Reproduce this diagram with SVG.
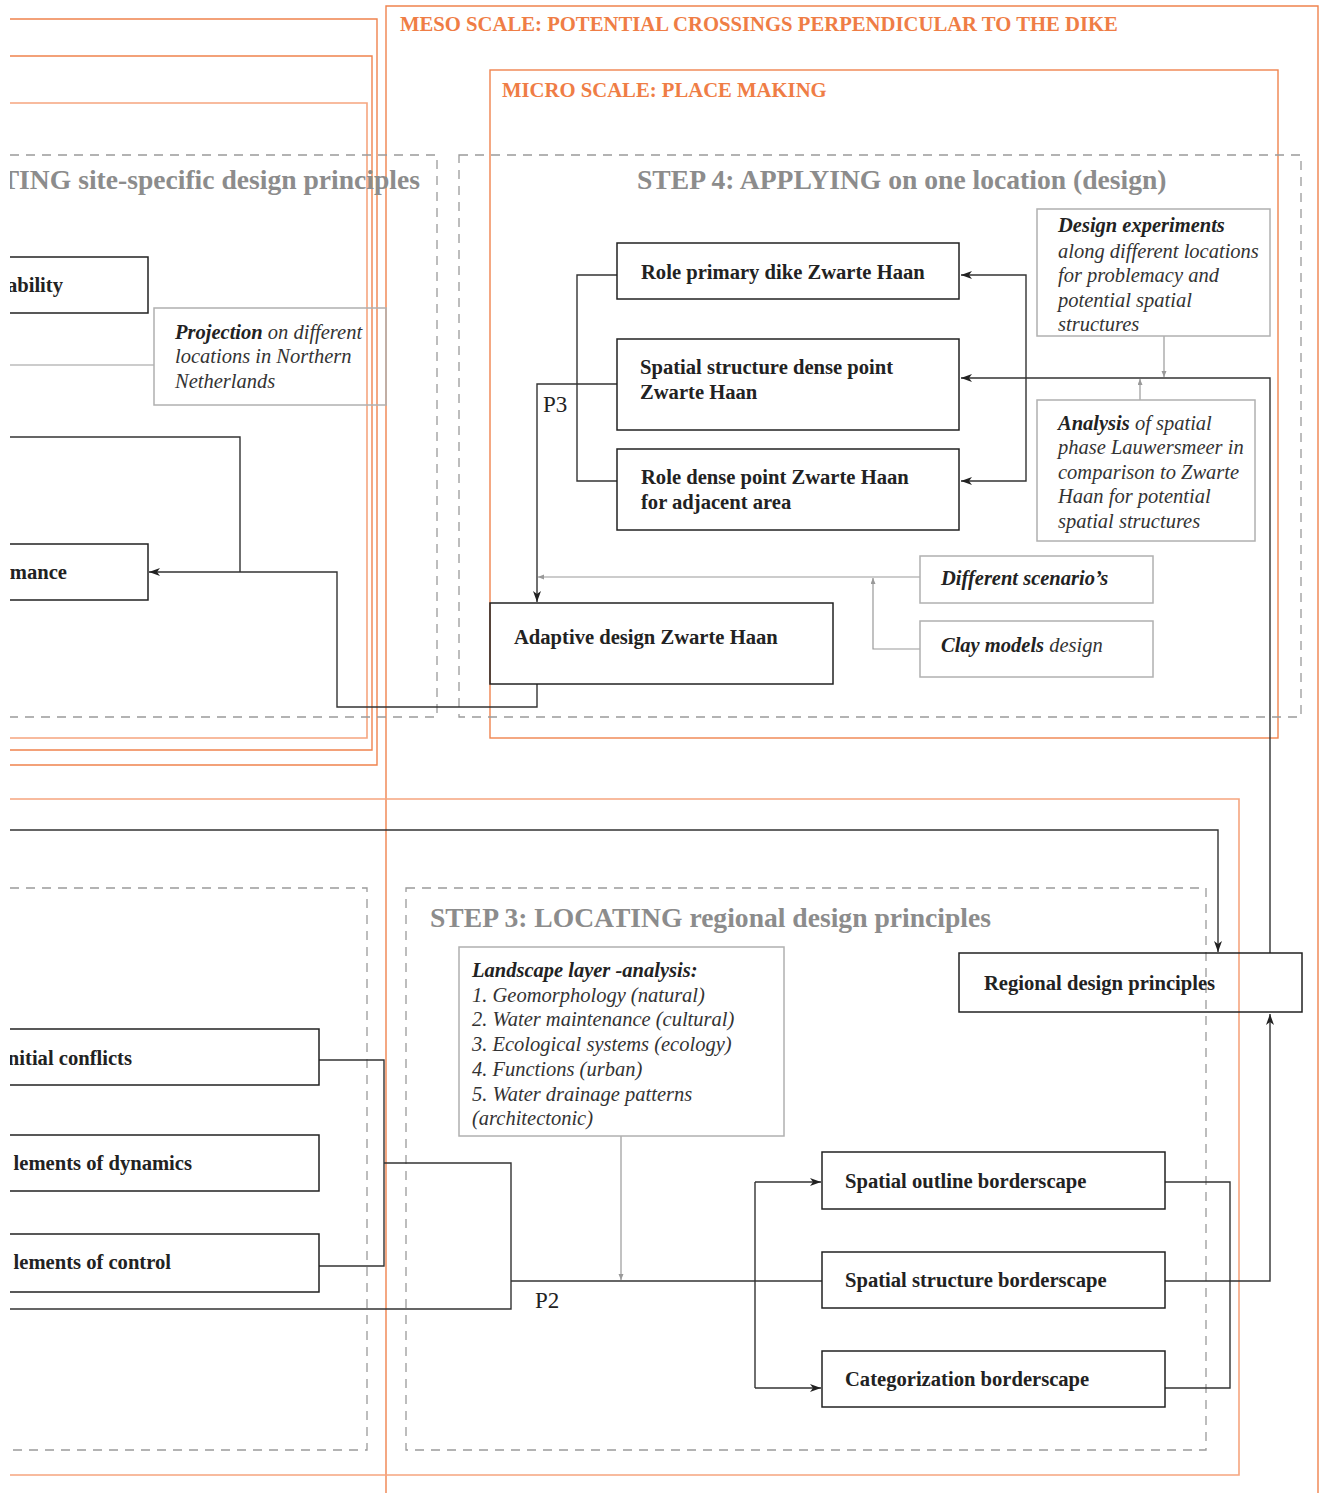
<svg xmlns="http://www.w3.org/2000/svg" width="1320" height="1493" viewBox="0 0 1320 1493">
<style>
.or{fill:none;stroke:#F0834E;stroke-width:1.4}
.orl{fill:none;stroke:#F6A57F;stroke-width:1.6}
.dash{fill:none;stroke:#9a9a9a;stroke-width:1.3;stroke-dasharray:9 7}
.box{fill:none;stroke:#222;stroke-width:1.5}
.gbox{fill:none;stroke:#b0b0b0;stroke-width:1.5}
.cn{fill:none;stroke:#333;stroke-width:1.4}
.gc{fill:none;stroke:#999;stroke-width:1.2}
.ot{font-family:"Liberation Serif",serif;font-weight:bold;font-size:20.7px;fill:#EF7D45}
.st{font-family:"Liberation Serif",serif;font-weight:bold;font-size:27.6px;fill:#8c8c8c}
.bt{font-family:"Liberation Serif",serif;font-weight:bold;font-size:20.6px;fill:#222}
.it{font-family:"Liberation Serif",serif;font-style:italic;font-size:20.5px;fill:#333}
.pl{font-family:"Liberation Serif",serif;font-size:23px;fill:#222}
.b{font-weight:bold;fill:#222}
</style>
<defs>
<clipPath id="cl"><rect x="10" y="0" width="1310" height="1493"/></clipPath>
<marker id="ah" markerUnits="userSpaceOnUse" markerWidth="12" markerHeight="9" refX="11" refY="4" orient="auto"><path d="M0,0 L11,4 L0,8 L3,4 z" fill="#222"/></marker>
<marker id="ag" markerUnits="userSpaceOnUse" markerWidth="7" markerHeight="6" refX="6" refY="2.5" orient="auto"><path d="M0,0 L6,2.5 L0,5 z" fill="#999"/></marker>
</defs>
<g clip-path="url(#cl)">
<g id="frames">
<path class="or" d="M386,1493 V6 H1318 V1493"/>
<rect class="or" x="490" y="70" width="788" height="668"/>
<path class="or" d="M10,19 H377 V765 H10"/>
<path class="or" d="M10,56 H372 V750 H10"/>
<path class="orl" d="M10,103 H367 V738 H10"/>
<path class="orl" d="M10,799 H1239 V1475 H10"/>
<text class="ot" x="400" y="31">MESO SCALE: POTENTIAL CROSSINGS PERPENDICULAR TO THE DIKE</text>
<text class="ot" x="502" y="97">MICRO SCALE: PLACE MAKING</text>
</g>
<g id="steps">
<path class="dash" d="M10,155 H437 V717 H10"/>
<rect class="dash" x="459" y="155" width="842" height="562"/>
<path class="dash" d="M10,888 H367 V1450 H10"/>
<rect class="dash" x="406" y="888" width="800" height="562"/>
<text class="st" x="420" y="189" text-anchor="end">TING site-specific design principles</text>
<text class="st" x="637" y="189">STEP 4: APPLYING on one location (design)</text>
<text class="st" x="430" y="927">STEP 3: LOCATING regional design principles</text>
</g>
<g id="connectors">
<path class="cn" d="M10,437 H240 V572"/>
<path class="cn" d="M537,684 V707 H337 V572 H149" marker-end="url(#ah)"/>
<path class="cn" d="M617,384 H537 V602" marker-end="url(#ah)"/>
<path class="cn" d="M617,275 H577 V481 H617"/>
<path class="cn" d="M1270,953 V378 H961" marker-end="url(#ah)"/>
<path class="cn" d="M1026,378 V275 H961" marker-end="url(#ah)"/>
<path class="cn" d="M1026,378 V481 H961" marker-end="url(#ah)"/>
<path class="cn" d="M10,830 H1218 V952" marker-end="url(#ah)"/>
<path class="cn" d="M1165,1281 H1270 V1014" marker-end="url(#ah)"/>
<path class="cn" d="M1165,1182 H1230 V1388 H1165"/>
<path class="cn" d="M319,1060 H384 V1266 H319"/>
<path class="cn" d="M384,1163 H511 V1309 H10"/>
<path class="cn" d="M511,1281 H822"/>
<path class="cn" d="M755,1182 V1388"/>
<path class="cn" d="M755,1182 H821" marker-end="url(#ah)"/>
<path class="cn" d="M755,1388 H821" marker-end="url(#ah)"/>
<path class="gc" d="M154,365 H10"/>
<path class="gc" d="M1164,336 V377" marker-end="url(#ag)"/>
<path class="gc" d="M1140,400 V379" marker-end="url(#ag)"/>
<path class="gc" d="M920,577 H538" marker-end="url(#ag)"/>
<path class="gc" d="M920,649 H873 V578" marker-end="url(#ag)"/>
<path class="gc" d="M621,1136 V1280" marker-end="url(#ag)"/>
<text class="pl" x="543" y="412">P3</text>
<text class="pl" x="535" y="1308">P2</text>
</g>
<g id="n-ability"><path class="box" d="M10,257 H148 V313 H10"/><text class="bt" x="63" y="292" text-anchor="end">ability</text></g>
<g id="n-mance"><path class="box" d="M10,544 H148 V600 H10"/><text class="bt" x="67" y="579" text-anchor="end">mance</text></g>
<g id="n-projection"><rect class="gbox" x="154" y="308" width="232" height="97"/>
<text class="it" x="175" y="339"><tspan class="b">Projection</tspan> on different</text>
<text class="it" x="175" y="363">locations in Northern</text>
<text class="it" x="175" y="388">Netherlands</text></g>
<g id="n-role-primary"><rect class="box" x="617" y="243" width="342" height="56"/><text class="bt" x="641" y="279">Role primary dike Zwarte Haan</text></g>
<g id="n-spatial-dense"><rect class="box" x="617" y="339" width="342" height="91"/><text class="bt" x="640" y="374">Spatial structure dense point</text><text class="bt" x="640" y="399">Zwarte Haan</text></g>
<g id="n-role-dense"><rect class="box" x="617" y="449" width="342" height="81"/><text class="bt" x="641" y="484">Role dense point Zwarte Haan</text><text class="bt" x="641" y="509">for adjacent area</text></g>
<g id="n-design-exp"><rect class="gbox" x="1037" y="209" width="233" height="127"/>
<text class="it" x="1058" y="232"><tspan class="b">Design experiments</tspan></text>
<text class="it" x="1058" y="258">along different locations</text>
<text class="it" x="1058" y="282">for problemacy and</text>
<text class="it" x="1058" y="307">potential spatial</text>
<text class="it" x="1058" y="331">structures</text></g>
<g id="n-analysis"><rect class="gbox" x="1037" y="400" width="218" height="141"/>
<text class="it" x="1058" y="430"><tspan class="b">Analysis</tspan> of spatial</text>
<text class="it" x="1058" y="454">phase Lauwersmeer in</text>
<text class="it" x="1058" y="479">comparison to Zwarte</text>
<text class="it" x="1058" y="503">Haan for potential</text>
<text class="it" x="1058" y="528">spatial structures</text></g>
<g id="n-scenarios"><rect class="gbox" x="920" y="556" width="233" height="47"/><text class="it" x="941" y="585"><tspan class="b">Different scenario’s</tspan></text></g>
<g id="n-clay"><rect class="gbox" x="920" y="621" width="233" height="56"/><text class="it" x="941" y="652"><tspan class="b">Clay models</tspan> design</text></g>
<g id="n-adaptive"><rect class="box" x="490" y="603" width="343" height="81"/><text class="bt" x="514" y="644">Adaptive design Zwarte Haan</text></g>
<g id="n-regional"><rect class="box" x="959" y="953" width="343" height="59"/><text class="bt" x="984" y="990">Regional design principles</text></g>
<g id="n-landscape"><rect class="gbox" x="459" y="947" width="325" height="189"/>
<text class="it" x="472" y="977"><tspan class="b">Landscape layer -analysis:</tspan></text>
<text class="it" x="472" y="1002">1. Geomorphology (natural)</text>
<text class="it" x="472" y="1026">2. Water maintenance (cultural)</text>
<text class="it" x="472" y="1051">3. Ecological systems (ecology)</text>
<text class="it" x="472" y="1076">4. Functions (urban)</text>
<text class="it" x="472" y="1101">5. Water drainage patterns</text>
<text class="it" x="472" y="1125">(architectonic)</text></g>
<g id="n-outline"><rect class="box" x="822" y="1152" width="343" height="57"/><text class="bt" x="845" y="1188">Spatial outline borderscape</text></g>
<g id="n-structure"><rect class="box" x="822" y="1252" width="343" height="56"/><text class="bt" x="845" y="1287">Spatial structure borderscape</text></g>
<g id="n-categorization"><rect class="box" x="822" y="1351" width="343" height="56"/><text class="bt" x="845" y="1386">Categorization borderscape</text></g>
<g id="n-initial"><path class="box" d="M10,1029 H319 V1085 H10"/><text class="bt" x="132" y="1065" text-anchor="end">nitial conflicts</text></g>
<g id="n-dynamics"><path class="box" d="M10,1135 H319 V1191 H10"/><text class="bt" x="192" y="1170" text-anchor="end">lements of dynamics</text></g>
<g id="n-control"><path class="box" d="M10,1234 H319 V1292 H10"/><text class="bt" x="171" y="1269" text-anchor="end">lements of control</text></g>
</g>
</svg>
